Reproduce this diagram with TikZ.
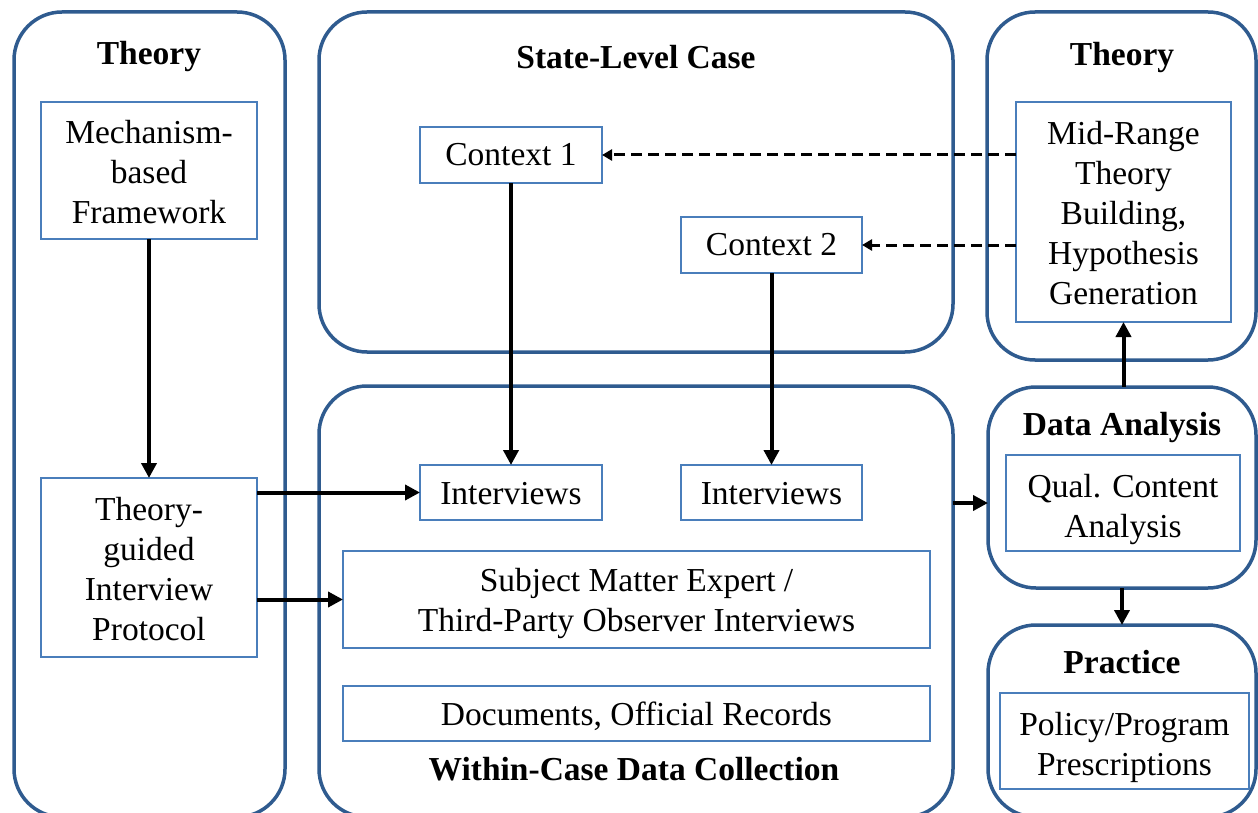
\documentclass[tikz,border=0pt]{standalone}
\usepackage{fontspec}
\setmainfont{Liberation Serif}
\usetikzlibrary{arrows.meta}
\definecolor{outerblue}{HTML}{2F5B8F}
\definecolor{innerblue}{HTML}{4A7EBB}
\begin{document}
\begin{tikzpicture}[x=1pt,y=-1pt,
  every node/.style={font=\fontsize{33.5}{40}\selectfont, inner sep=0pt, outer sep=0pt},
  outerbox/.style={draw=outerblue, line width=3.5pt, rounded corners=48pt},
  innerbox/.style={draw=innerblue, line width=1.8pt, fill=white},
  boxtext/.style={align=center},
  title/.style={font=\fontsize{33.5}{40}\selectfont\bfseries, anchor=base},
  arr/.style={line width=4pt, -{Triangle[length=15pt,width=15pt]}},
  darr/.style={line width=3pt, dash pattern=on 11pt off 6pt, -{Triangle[length=10pt,width=11pt]}}
]
\useasboundingbox (0,0) rectangle (1258,813);
\fill[white] (0,0) rectangle (1258,813);
\clip (0,0) rectangle (1258,813);

% outer rounded boxes
\node[outerbox, minimum width=271pt, minimum height=805pt] (lt) at (149.5,414.5) {};
\node[outerbox, minimum width=634pt, minimum height=340pt] (slc) at (636,182) {};
\node[outerbox, minimum width=269pt, minimum height=348pt] (rt) at (1121.5,186) {};
\node[outerbox, minimum width=634pt, minimum height=431pt] (wc) at (636,601.5) {};
\node[outerbox, minimum width=268pt, minimum height=201pt] (da) at (1122,487.5) {};
\node[outerbox, minimum width=268pt, minimum height=192pt] (pr) at (1122,721) {};

% titles
\node[title] (ltT) at (149,65) {Theory};
\node[title] (slcT) at (636,69) {State-Level Case};
\node[title] (rtT) at (1122,66) {Theory};
\node[title] (daT) at (1122,435) {Data Analysis};
\node[title] (prT) at (1122,673) {Practice};
\node[title] (wcT) at (634,780) {Within-Case Data Collection};

% inner boxes
\node[innerbox, minimum width=216pt, minimum height=137pt] (mech) at (149,170.5) {};
\node[innerbox, minimum width=216pt, minimum height=179pt] (tg) at (149,567.5) {};
\node[innerbox, minimum width=182pt, minimum height=56pt] (c1) at (511,155) {};
\node[innerbox, minimum width=181pt, minimum height=56pt] (c2) at (771.5,245) {};
\node[innerbox, minimum width=215pt, minimum height=220pt] (mid) at (1123.5,212) {};
\node[innerbox, minimum width=182pt, minimum height=55pt] (i1) at (511,492.5) {};
\node[innerbox, minimum width=181pt, minimum height=55pt] (i2) at (771.5,492.5) {};
\node[innerbox, minimum width=587pt, minimum height=97pt] (sme) at (636.5,599.5) {};
\node[innerbox, minimum width=587pt, minimum height=55pt] (doc) at (636.5,713.5) {};
\node[innerbox, minimum width=234pt, minimum height=96pt] (qca) at (1123,503) {};
\node[innerbox, minimum width=249pt, minimum height=96pt] (ppp) at (1124.5,741) {};

% box texts
\node[boxtext] (mechT) at ([yshift=-2pt]mech.center) {Mechanism-\\based\\Framework};
\node[boxtext] (tgT) at ([yshift=-2pt]tg.center) {Theory-\\guided\\Interview\\Protocol};
\node[boxtext] (c1T) at ([yshift=0pt]c1.center) {Context 1};
\node[boxtext] (c2T) at ([yshift=0pt]c2.center) {Context 2};
\node[boxtext] (midT) at ([yshift=-1.5pt]mid.center) {Mid-Range\\Theory\\Building,\\Hypothesis\\Generation};
\node[boxtext] (i1T) at ([yshift=-1.5pt]i1.center) {Interviews};
\node[boxtext] (i2T) at ([yshift=-1.5pt]i2.center) {Interviews};
\node[boxtext] (smeT) at ([yshift=-4pt]sme.center) {Subject Matter Expert /\\Third-Party Observer Interviews};
\node[boxtext] (docT) at ([yshift=-2.5pt]doc.center) {Documents, Official Records};
\node[boxtext] (qcaT) at ([yshift=-6pt]qca.center) {Qual. Content\\Analysis};
\node[boxtext] (pppT) at ([yshift=-6pt]ppp.center) {Policy/Program\\Prescriptions};

% connectors
\draw[arr] (mech) -- (tg);
\draw[arr] (c1) -- (i1);
\draw[arr] (c2) -- (i2);
\draw[arr] (tg.east |- i1.west) -- (i1.west);
\draw[arr] (tg.east |- sme.west) -- (sme.west);
\draw[arr] (wc.east |- qca.west) -- (da.west |- qca.west);
\draw[arr] (da.north -| mid.south) -- (mid.south);
\draw[arr] (da.south) -- (pr.north);
\draw[darr] (mid.west |- c1.east) -- (c1.east);
\draw[darr] (mid.west |- c2.east) -- (c2.east);
\end{tikzpicture}
\end{document}
